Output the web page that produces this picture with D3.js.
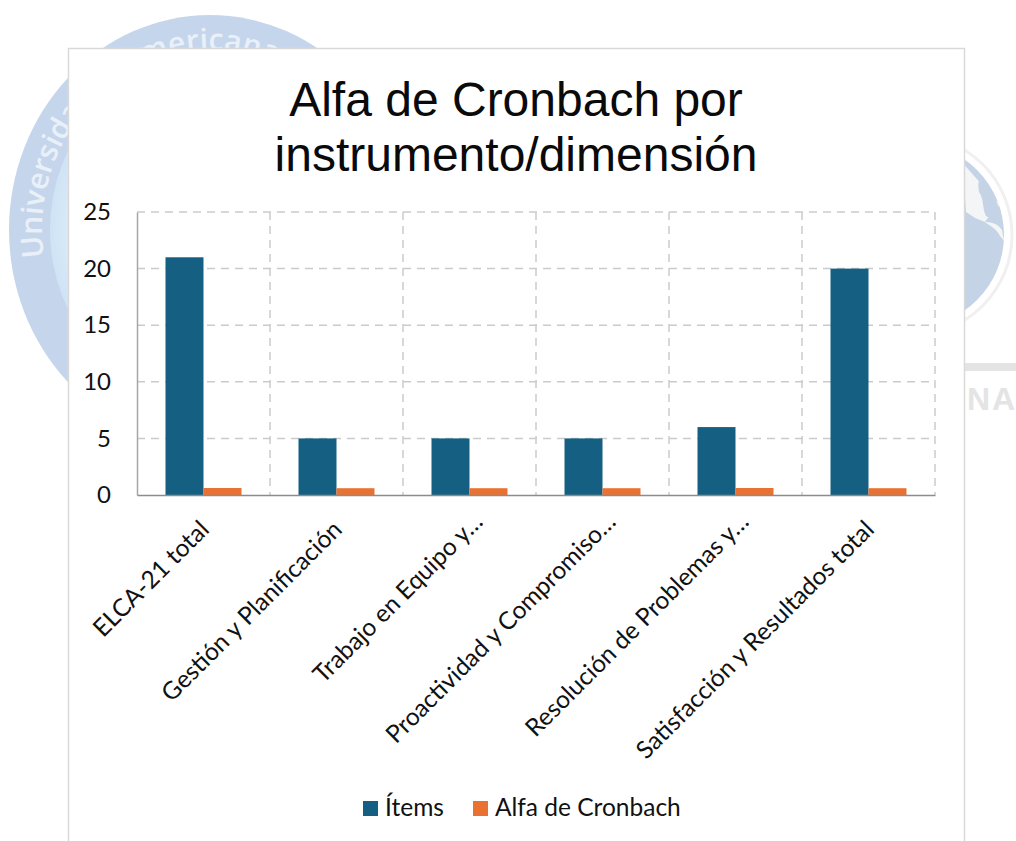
<!DOCTYPE html>
<html>
<head>
<meta charset="utf-8">
<style>
  body { margin: 0; background: #fff; overflow: hidden; }
  svg { display: block; }
  .cal { font-family: Lato, "Open Sans", sans-serif; fill: #111; }
</style>
</head>
<body>
<svg width="1016" height="841"></svg>
<script src="https://cdn.jsdelivr.net/npm/d3@7"></script>
<script>
// chart values
var categories = ["ELCA-21 total", "Gestión y Planificación", "Trabajo en Equipo y…", "Proactividad y Compromiso…", "Resolución de Problemas y…", "Satisfacción y Resultados total"];
var items = [21, 5, 5, 5, 6, 20];
var alfa = [0.62, 0.6, 0.6, 0.6, 0.62, 0.6];
var seriesNames = ["Ítems", "Alfa de Cronbach"];
var seriesColors = ["#156082", "#e97132"];
var yTicks = [0, 5, 10, 15, 20, 25];
var titleLines = ["Alfa de Cronbach por", "instrumento/dimensión"];

var svg = d3.select("svg");
var defs = svg.append("defs");

// background logo, left one
var grad = defs.append("radialGradient").attr("id", "inner");
grad.append("stop").attr("offset", "0.6").attr("stop-color", "#f2f8fd");
grad.append("stop").attr("offset", "1").attr("stop-color", "#cfe3f5");

var bg = svg.append("g");
bg.append("ellipse").attr("cx", 210).attr("cy", 230).attr("rx", 201).attr("ry", 215).attr("fill", "#c5d6ec");
bg.append("ellipse").attr("cx", 210).attr("cy", 230).attr("rx", 160).attr("ry", 172).attr("fill", "url(#inner)");

defs.append("path").attr("id", "ring")
    .attr("d", "M 210 410 A 168 180 0 1 1 210.1 410");

bg.append("text")
    .attr("font-family", "Open Sans, sans-serif")
    .attr("font-size", 30)
    .attr("font-weight", 600)
    .attr("fill", "#e9f0f8")
  .append("textPath")
    .attr("href", "#ring")
    .attr("startOffset", "22.5%")
    .text("Universida");

bg.append("text")
    .attr("font-family", "Open Sans, sans-serif")
    .attr("font-size", 30)
    .attr("font-weight", 600)
    .attr("fill", "#e9f0f8")
    .attr("text-anchor", "middle")
  .append("textPath")
    .attr("href", "#ring")
    .attr("startOffset", "49%")
    .text("Americana");

// background logo, right one (the globe)
bg.append("circle").attr("cx", 912).attr("cy", 235).attr("r", 100)
    .attr("fill", "#fff").attr("stroke", "#f0f0f0").attr("stroke-width", 3);
bg.append("circle").attr("cx", 912).attr("cy", 235).attr("r", 92).attr("fill", "#c5d3e6");
bg.append("path").attr("fill", "#f4f5f7")
    .attr("d", "M 960 160 L 1000 205 L 990 215 L 985 222 L 975 218 L 966 212 L 964 180 Z");
bg.append("path").attr("fill", "#c5d3e6")
    .attr("d", "M 980 178 C 988 182 996 200 1001 212 C 1000 218 990 219 986 216 C 982 208 984 198 979 192 C 978 186 978 182 980 178 Z");
bg.append("path").attr("fill", "#f4f5f7")
    .attr("d", "M 985 222 C 992 222 998 224 1002 230 L 1004 241 L 1000 236 C 996 228 990 226 985 222 Z");
bg.append("rect").attr("x", 960).attr("y", 363).attr("width", 56).attr("height", 8).attr("fill", "#e4e4e4");
bg.append("text")
    .attr("x", 967)
    .attr("y", 410)
    .attr("font-family", "Liberation Sans, sans-serif")
    .attr("font-weight", "bold")
    .attr("font-size", 32)
    .attr("letter-spacing", 2)
    .attr("fill", "#e4e4e4")
    .text("NA");

// chart card
svg.append("rect")
    .attr("x", 68.5)
    .attr("y", 48.5)
    .attr("width", 896)
    .attr("height", 810)
    .attr("fill", "#fff")
    .attr("stroke", "#d9d9d9")
    .attr("stroke-width", 1.5);

// title
svg.append("g")
    .attr("font-family", "Liberation Sans, Arial, sans-serif")
    .attr("font-size", 48)
    .attr("fill", "#0a0a0a")
    .attr("text-anchor", "middle")
  .selectAll("text")
  .data(titleLines)
  .enter().append("text")
    .attr("x", 516)
    .attr("y", function(d, i) { return 116 + i * 55; })
    .text(function(d) { return d; });

var x0 = d3.scaleBand().domain(categories).range([137, 935]);
var x1 = d3.scaleBand().domain(seriesNames).range([0, x0.bandwidth()]).paddingInner(0).paddingOuter(0.75);
var y = d3.scaleLinear().domain([0, 25]).range([495, 212]);
var color = d3.scaleOrdinal().domain(seriesNames).range(seriesColors);

// grid lines
var grid = svg.append("g")
    .attr("stroke", "#cbcbcb")
    .attr("stroke-width", 1.5)
    .attr("stroke-dasharray", "8,6");

grid.selectAll(".h")
  .data(yTicks.slice(1))
  .enter().append("line")
    .attr("class", "h")
    .attr("x1", x0.range()[0])
    .attr("x2", x0.range()[1])
    .attr("y1", function(d) { return y(d); })
    .attr("y2", function(d) { return y(d); });

grid.selectAll(".v")
  .data(categories)
  .enter().append("line")
    .attr("class", "v")
    .attr("x1", function(d) { return x0(d) + x0.bandwidth(); })
    .attr("x2", function(d) { return x0(d) + x0.bandwidth(); })
    .attr("y1", y(25))
    .attr("y2", y(0));

// bars
var rows = categories.map(function(c, i) {
  return {cat: c, values: [{key: seriesNames[0], value: items[i]}, {key: seriesNames[1], value: alfa[i]}]};
});

svg.append("g")
  .selectAll("g")
  .data(rows)
  .enter().append("g")
    .attr("transform", function(d) { return "translate(" + x0(d.cat) + ",0)"; })
  .selectAll("rect")
  .data(function(d) { return d.values; })
  .enter().append("rect")
    .attr("x", function(d) { return x1(d.key); })
    .attr("y", function(d) { return y(d.value); })
    .attr("width", x1.bandwidth())
    .attr("height", function(d) { return y(0) - y(d.value); })
    .attr("fill", function(d) { return color(d.key); });

// axes
var yAxis = svg.append("g")
    .attr("transform", "translate(137,0)")
    .call(d3.axisLeft(y).tickValues(yTicks).tickSize(0).tickPadding(26));
yAxis.select(".domain").attr("stroke", "#a6a6a6").attr("stroke-width", 1.5);
yAxis.selectAll("text").attr("class", "cal").attr("font-size", 24);

var xAxis = svg.append("g")
    .attr("transform", "translate(0,495)")
    .call(d3.axisBottom(x0).tickSize(0));
xAxis.select(".domain").attr("stroke", "#8c8c8c").attr("stroke-width", 1.5);
// the cut labels end a bit further along, the ellipsis is wider in the original
xAxis.selectAll("text")
    .attr("class", "cal")
    .attr("font-size", 24.5)
    .attr("text-anchor", "end")
    .attr("x", function(d) { return d.slice(-1) == "…" ? 11 : 0; })
    .attr("y", 0)
    .attr("dy", 0)
    .attr("transform", "translate(7,36) rotate(-45)");

// legend
var legendX = [363, 473];
var legend = svg.append("g")
  .selectAll("g")
  .data(seriesNames)
  .enter().append("g")
    .attr("transform", function(d, i) { return "translate(" + legendX[i] + ",801)"; });

legend.append("rect")
    .attr("width", 15)
    .attr("height", 15)
    .attr("fill", function(d) { return color(d); });

legend.append("text")
    .attr("class", "cal")
    .attr("x", 22)
    .attr("y", 15)
    .attr("font-size", 24.5)
    .text(function(d) { return d; });
</script>
</body>
</html>
